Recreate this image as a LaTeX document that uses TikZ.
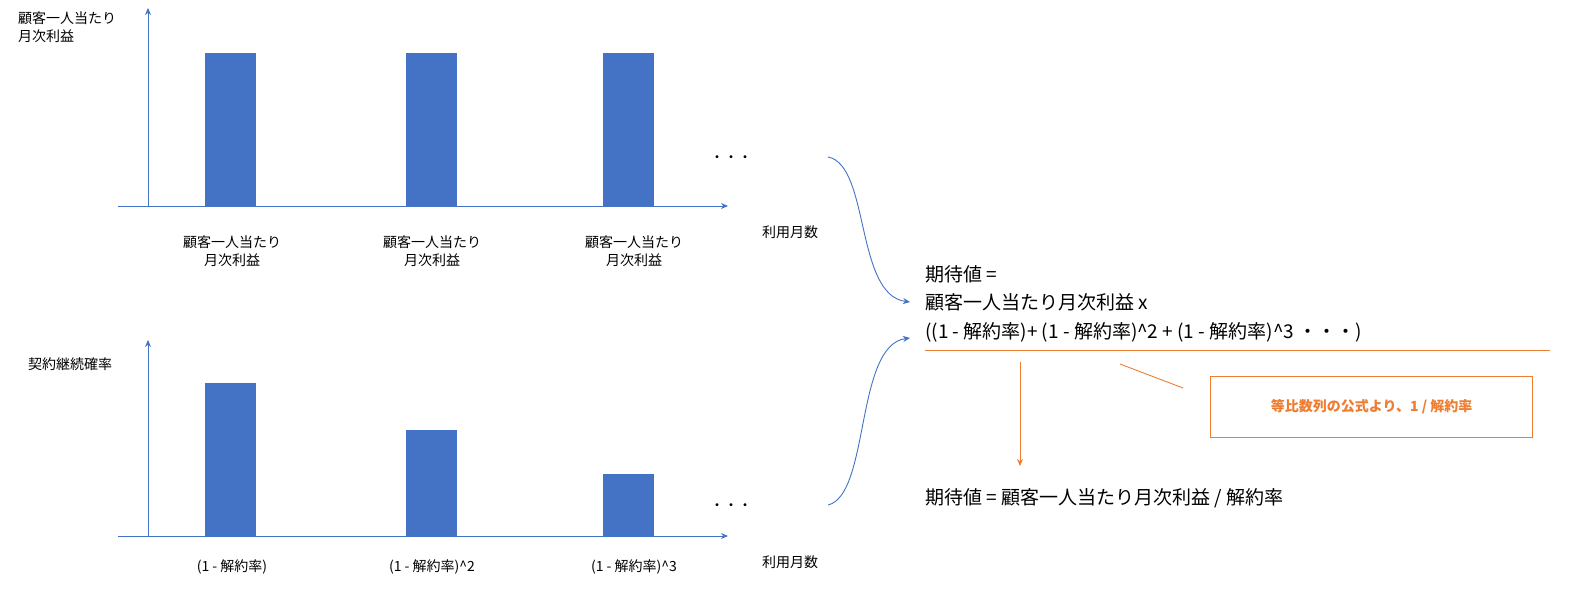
\documentclass[tikz,border=0pt]{standalone}
\usepackage{fontspec}
\setmainfont{Noto Sans CJK JP}
\usetikzlibrary{arrows.meta}
\definecolor{bblue}{HTML}{4472C4}
\definecolor{borange}{HTML}{ED7D31}
\begin{document}
\begin{tikzpicture}[x=1pt,y=-1pt,
  axis/.style={bblue,line width=0.9pt,-{Stealth[length=7pt,width=6pt]}},
  bar/.style={fill=bblue,draw=none},
  lbl/.style={font=\fontsize{14}{18}\selectfont,align=center,inner sep=0},
  big/.style={font=\fontsize{19}{24}\selectfont,anchor=west,inner sep=0},
  curve/.style={bblue,line width=0.9pt,-{Stealth[length=7pt,width=6pt]}},
  oline/.style={borange,line width=0.9pt}]
\useasboundingbox (0,0) rectangle (1573,589);
% top chart
\coordinate (t0) at (148,206); \coordinate (ty) at (148,8);
\coordinate (tl) at (118,206); \coordinate (tx) at (728,206);
\draw[axis] (t0) -- (ty);
\draw[axis] (tl) -- (tx);
\fill[bar] (205,53) rectangle (256,206);
\fill[bar] (406,53) rectangle (457,206);
\fill[bar] (603,53) rectangle (654,206);
\node[lbl,anchor=north west,align=left] (tyl) at (18,12) {顧客一人当たり\\月次利益};
\node[lbl] (tl1) at (232,251) {顧客一人当たり\\月次利益};
\node[lbl] (tl2) at (432,251) {顧客一人当たり\\月次利益};
\node[lbl] (tl3) at (634,251) {顧客一人当たり\\月次利益};
\node[lbl] (tdots) at (731,159) {・・・};
\node[lbl] (txl) at (790,232) {利用月数};
% bottom chart
\coordinate (b0) at (148,536); \coordinate (by) at (148,340);
\coordinate (bl) at (118,536); \coordinate (bx) at (728,536);
\draw[axis] (b0) -- (by);
\draw[axis] (bl) -- (bx);
\fill[bar] (205,383) rectangle (256,536);
\fill[bar] (406,430) rectangle (457,536);
\fill[bar] (603,474) rectangle (654,536);
\node[lbl,anchor=west] (byl) at (28,364) {契約継続確率};
\node[lbl] (bl1) at (232,567) {(1 - 解約率)};
\node[lbl] (bl2) at (432,567) {(1 - 解約率)\textasciicircum 2};
\node[lbl] (bl3) at (634,567) {(1 - 解約率)\textasciicircum 3};
\node[lbl] (bdots) at (731,507) {・・・};
\node[lbl] (bxl) at (790,562) {利用月数};
% right
\node[big] (r1) at (925,274) {期待値 =};
\node[big] (r2) at (925,302) {顧客一人当たり月次利益 x};
\node[big] (r3) at (925,332) {((1 - 解約率)+ (1 - 解約率)\textasciicircum 2 + (1 - 解約率)\textasciicircum 3 ・・・)};
\node[big] (r4) at (925,498) {期待値 = 顧客一人当たり月次利益 / 解約率};
\coordinate (c1s) at (828,157); \coordinate (c1e) at (910,302);
\coordinate (c2s) at (828,505); \coordinate (c2e) at (910,338);
\draw[curve] (c1s) .. controls (870,165) and (855,295) .. (c1e);
\draw[curve] (c2s) .. controls (870,495) and (855,345) .. (c2e);
\coordinate (u1) at (925,350); \coordinate (u2) at (1550,350);
\draw[oline] (u1) -- (u2);
\coordinate (a1) at (1020,362); \coordinate (a2) at (1020,466);
\draw[oline,-{Stealth[length=7pt,width=6pt]}] (a1) -- (a2);
\node[draw=borange,line width=1.2pt,minimum width=322pt,minimum height=61pt,anchor=north west,inner sep=0,
  font=\fontsize{14}{18}\selectfont\bfseries,text=borange] (box) at (1210,376) {等比数列の公式より、1 / 解約率};
\coordinate (o1) at (1120,364); \coordinate (o2) at (1183,388);
\draw[oline] (o1) -- (o2);
\end{tikzpicture}
\end{document}
